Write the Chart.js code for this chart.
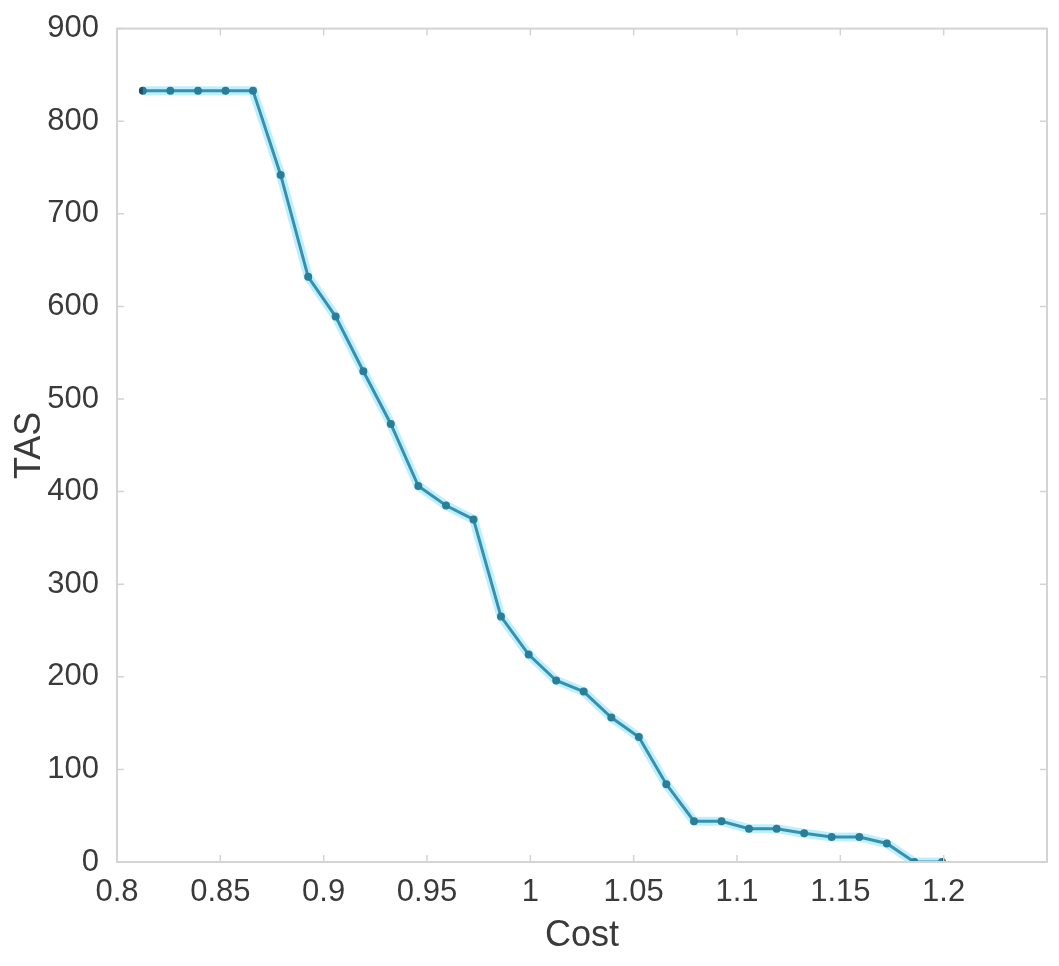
<!DOCTYPE html>
<html>
<head>
<meta charset="utf-8">
<script src="https://cdn.jsdelivr.net/npm/chart.js@4/dist/chart.umd.min.js"></script>
<style>
  html, body { margin: 0; padding: 0; background: #fff; }
  #wrap { width: 1059px; height: 966px; }
</style>
</head>
<body>
<div id="wrap"><canvas id="tasChart"></canvas></div>
<script>
// Data
const costValues = [0.8125, 0.8258, 0.8392, 0.8525, 0.8658, 0.8792, 0.8925, 0.9058, 0.9192, 0.9325,
                    0.9458, 0.9592, 0.9725, 0.9858, 0.9992, 1.0125, 1.0258, 1.0392, 1.0525, 1.0658,
                    1.0792, 1.0925, 1.1058, 1.1192, 1.1325, 1.1458, 1.1592, 1.1725, 1.1858, 1.1992];
const tasValues = [833, 833, 833, 833, 833, 742, 632, 589, 530, 473,
                   406, 385, 370, 265, 224, 196, 184, 156, 135, 84,
                   44, 44, 36, 36, 31, 27, 27, 20, 0, 0];
const xTicks = [0.8, 0.85, 0.9, 0.95, 1, 1.05, 1.1, 1.15, 1.2];
const yTicks = [0, 100, 200, 300, 400, 500, 600, 700, 800, 900];

const points = costValues.map((x, i) => ({ x: x, y: tasValues[i] }));
const textColor = '#3a3a3a';
const fontFamily = 'Liberation Sans, Arial, sans-serif';
const tickFont = { family: fontFamily, size: 31 };

// light frame around the plot area plus short inward ticks, like the MATLAB box
const boxPlugin = {
    id: 'box',
    afterDraw(chart) {
        const a = chart.chartArea;
        const ctx = chart.ctx;
        const xs = chart.scales.x, ys = chart.scales.y;
        ctx.save();
        ctx.strokeStyle = '#d4d4d4';
        ctx.lineWidth = 2;
        ctx.strokeRect(a.left, a.top, a.right - a.left, a.bottom - a.top);
        ctx.lineWidth = 1.5;
        ctx.beginPath();
        xTicks.forEach(v => {
            const px = xs.getPixelForValue(v);
            ctx.moveTo(px, a.bottom); ctx.lineTo(px, a.bottom - 7);
            ctx.moveTo(px, a.top); ctx.lineTo(px, a.top + 7);
        });
        yTicks.forEach(v => {
            const py = ys.getPixelForValue(v);
            ctx.moveTo(a.left, py); ctx.lineTo(a.left + 7, py);
            ctx.moveTo(a.right, py); ctx.lineTo(a.right - 7, py);
        });
        ctx.stroke();
        ctx.restore();
    }
};

new Chart(document.getElementById('tasChart').getContext('2d'), {
    type: 'line',
    data: {
        datasets: [{
            // soft cyan halo under the line
            data: points,
            borderColor: 'rgba(70, 210, 245, 0.35)',
            borderWidth: 9,
            pointRadius: 0,
            tension: 0
        }, {
            data: points,
            borderColor: '#2f6d87',
            borderWidth: 3,
            pointRadius: 2.5,
            pointBackgroundColor: '#1b5269',
            pointBorderColor: '#1b5269',
            tension: 0
        }]
    },
    options: {
        responsive: true,
        maintainAspectRatio: false,
        animation: false,
        layout: { padding: { left: 8, right: 12, top: 15, bottom: 8 } },
        plugins: {
            legend: { display: false },
            tooltip: { enabled: false }
        },
        scales: {
            x: {
                type: 'linear',
                min: 0.8,
                max: 1.25,
                afterBuildTicks: scale => { scale.ticks = xTicks.map(v => ({ value: v })); },
                ticks: {
                    color: textColor,
                    font: tickFont,
                    padding: 4,
                    maxRotation: 0,
                    callback: v => String(+v.toFixed(2))
                },
                grid: { display: false },
                border: { display: false },
                title: {
                    display: true,
                    text: 'Cost',
                    color: textColor,
                    font: { family: fontFamily, size: 36 },
                    padding: { top: 0, bottom: 0 }
                },
                afterFit: scale => { scale.height = 96; }
            },
            y: {
                min: 0,
                max: 900,
                afterBuildTicks: scale => { scale.ticks = yTicks.map(v => ({ value: v })); },
                ticks: {
                    color: textColor,
                    font: tickFont,
                    padding: 10
                },
                grid: { display: false },
                border: { display: false },
                title: {
                    display: true,
                    text: 'TAS',
                    color: textColor,
                    font: { family: fontFamily, size: 36 },
                    padding: { top: 0, bottom: 4 }
                },
                afterFit: scale => { scale.width = 109; }
            }
        }
    },
    plugins: [boxPlugin]
});
</script>
</body>
</html>
